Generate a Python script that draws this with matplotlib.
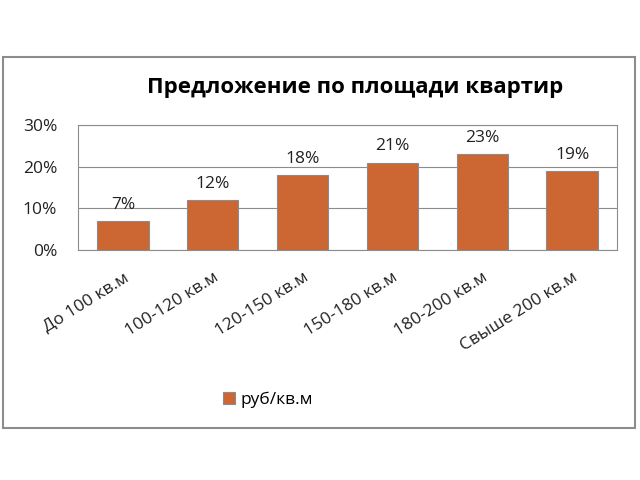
import matplotlib.pyplot as plt
from matplotlib.patches import Rectangle
from matplotlib.ticker import PercentFormatter

plt.rcParams['font.family'] = ['Open Sans', 'DejaVu Sans']

categories = ["До 100 кв.м", "100-120 кв.м", "120-150 кв.м",
              "150-180 кв.м", "180-200 кв.м", "Свыше 200 кв.м"]
shares = [7, 12, 18, 21, 23, 19]
series_name = "руб/кв.м"
bar_color = "#CC6633"
line_gray = "#8C8C8C"

fig = plt.figure(figsize=(6.4, 4.8), dpi=100)
fig.patches.append(Rectangle((3 / 640, 1 - 428 / 480), 632 / 640, 371 / 480,
                             transform=fig.transFigure, fill=False,
                             edgecolor="#8C8C8C", linewidth=1.5))

ax = fig.add_axes([78 / 640, 1 - 250 / 480, 539 / 640, 125 / 480])
x = range(len(categories))
bars = ax.bar(x, shares, width=0.57, color=bar_color, edgecolor=line_gray,
              linewidth=0.8, label=series_name, zorder=3)
for b, v in zip(bars, shares):
    ax.annotate(f"{v}%", (b.get_x() + b.get_width() / 2, v),
                xytext=(0, 6), textcoords="offset points",
                ha="center", va="bottom", fontsize=12.5, color="#222222")

ax.set_xlim(-0.5, len(categories) - 0.5)
ax.set_ylim(0, 30)
ax.set_yticks([0, 10, 20, 30])
ax.yaxis.set_major_formatter(PercentFormatter(decimals=0))
ax.grid(axis="y", color=line_gray, linewidth=0.8, zorder=0)
for s in ax.spines.values():
    s.set_color(line_gray)
    s.set_linewidth(0.8)
ax.tick_params(axis="both", length=0, labelsize=12.5, labelcolor="#222222")
ax.tick_params(axis="y", pad=15)
ax.tick_params(axis="x", pad=14)
ax.set_xticks(list(x))
ax.set_xticklabels(categories, rotation=32, ha="right",
                   rotation_mode="anchor")

fig.text(355 / 640, 1 - 87 / 480, "Предложение по площади квартир",
         ha="center", va="center", fontsize=16, fontweight="bold")

fig.legend(handles=[bars], labels=[series_name], loc="center",
           bbox_to_anchor=(268 / 640, 1 - 400 / 480), frameon=False,
           fontsize=12.5, handlelength=0.7, handleheight=0.7,
           handletextpad=0.3)

fig.savefig("out.png", dpi=100)
